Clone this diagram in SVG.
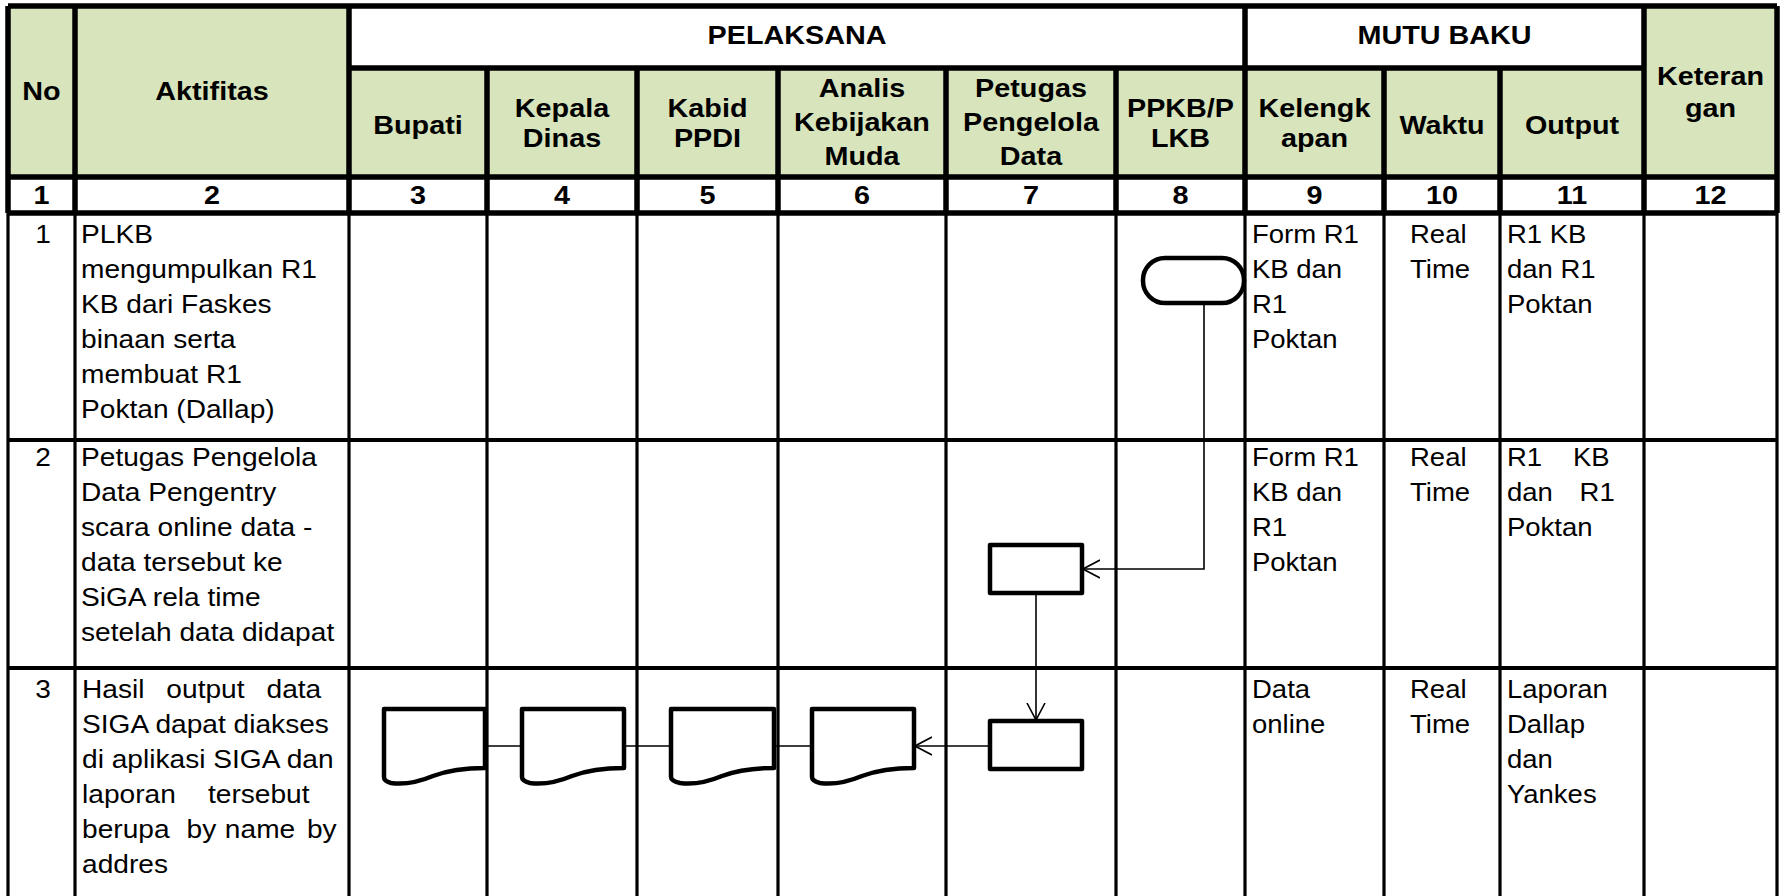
<svg xmlns="http://www.w3.org/2000/svg" width="1784" height="896" viewBox="0 0 1784 896">
<style>
.bg{fill:#ffffff}
.grn{fill:#D7E4BC}
.thk{stroke:#000;stroke-width:5.5;fill:none}
.thn{stroke:#000;stroke-width:3.2;fill:none}
.h{font-family:"Liberation Sans",Arial,sans-serif;font-weight:bold;font-size:25px;text-anchor:middle;fill:#000}
.t{font-family:"Liberation Sans",Arial,sans-serif;font-size:25px;fill:#000}
.c{text-anchor:middle}
.node{fill:#fff;stroke:#000;stroke-width:4.5;stroke-linejoin:round}
.conn{fill:none;stroke:#000;stroke-width:1.6}
</style>
<defs>
<marker id="arr" viewBox="0 0 18 20" refX="17" refY="10" markerWidth="18" markerHeight="20" markerUnits="userSpaceOnUse" orient="auto">
<path d="M0,1 L17,10 L0,19" fill="none" stroke="#000" stroke-width="1.6"/>
</marker>
</defs>
<rect class="bg" x="0" y="0" width="1784" height="896"/>
<g id="table">
<rect class="grn" x="8" y="6" width="341" height="171"/>
<rect class="grn" x="349" y="69" width="1295" height="108"/>
<rect class="grn" x="1644" y="6" width="133" height="171"/>
<path class="thk" d="M8,6 H1777 M349,68 H1644 M8,177 H1777 M8,213 H1777 M8,6 V213 M75,6 V213 M349,6 V213 M1245,6 V213 M1644,6 V213 M1777,6 V213 M487,68 V213 M637,68 V213 M778,68 V213 M946,68 V213 M1116,68 V213 M1384,68 V213 M1500,68 V213"/>
<path class="thn" d="M8,213 V896 M75,213 V896 M349,213 V896 M487,213 V896 M637,213 V896 M778,213 V896 M946,213 V896 M1116,213 V896 M1245,213 V896 M1384,213 V896 M1500,213 V896 M1644,213 V896 M1777,213 V896"/>
<path class="thk" style="stroke-width:4.2" d="M8,440 H1777 M8,668 H1777"/>
</g>
<g id="header-text">
<text class="h" transform="translate(797,44) scale(1.15,1)">PELAKSANA</text>
<text class="h" transform="translate(1444.5,44) scale(1.15,1)">MUTU BAKU</text>
<text class="h" transform="translate(41.5,100) scale(1.15,1)">No</text>
<text class="h" transform="translate(212,100) scale(1.15,1)">Aktifitas</text>
<text class="h" transform="translate(418,134) scale(1.15,1)">Bupati</text>
<text class="h" transform="translate(562,0) scale(1.15,1)"><tspan x="0" y="117">Kepala</tspan><tspan x="0" y="147">Dinas</tspan></text>
<text class="h" transform="translate(707.5,0) scale(1.15,1)"><tspan x="0" y="117">Kabid</tspan><tspan x="0" y="147">PPDI</tspan></text>
<text class="h" transform="translate(862,0) scale(1.15,1)"><tspan x="0" y="97">Analis</tspan><tspan x="0" y="131">Kebijakan</tspan><tspan x="0" y="165">Muda</tspan></text>
<text class="h" transform="translate(1031,0) scale(1.15,1)"><tspan x="0" y="97">Petugas</tspan><tspan x="0" y="131">Pengelola</tspan><tspan x="0" y="165">Data</tspan></text>
<text class="h" transform="translate(1180.5,0) scale(1.15,1)"><tspan x="0" y="117">PPKB/P</tspan><tspan x="0" y="147">LKB</tspan></text>
<text class="h" transform="translate(1314.5,0) scale(1.15,1)"><tspan x="0" y="117">Kelengk</tspan><tspan x="0" y="147">apan</tspan></text>
<text class="h" transform="translate(1442,134) scale(1.15,1)">Waktu</text>
<text class="h" transform="translate(1572,134) scale(1.15,1)">Output</text>
<text class="h" transform="translate(1710.5,0) scale(1.15,1)"><tspan x="0" y="85">Keteran</tspan><tspan x="0" y="117">gan</tspan></text>
<text class="h" transform="translate(41.5,204) scale(1.15,1)">1</text>
<text class="h" transform="translate(212,204) scale(1.15,1)">2</text>
<text class="h" transform="translate(418,204) scale(1.15,1)">3</text>
<text class="h" transform="translate(562,204) scale(1.15,1)">4</text>
<text class="h" transform="translate(707.5,204) scale(1.15,1)">5</text>
<text class="h" transform="translate(862,204) scale(1.15,1)">6</text>
<text class="h" transform="translate(1031,204) scale(1.15,1)">7</text>
<text class="h" transform="translate(1180.5,204) scale(1.15,1)">8</text>
<text class="h" transform="translate(1314.5,204) scale(1.15,1)">9</text>
<text class="h" transform="translate(1442,204) scale(1.15,1)">10</text>
<text class="h" transform="translate(1572,204) scale(1.15,1)">11</text>
<text class="h" transform="translate(1710.5,204) scale(1.15,1)">12</text>
</g>
<g id="row-1">
<text class="t c" transform="translate(43,243) scale(1.125,1)">1</text>
<text class="t" transform="translate(81,0) scale(1.125,1)"><tspan x="0" y="243">PLKB</tspan><tspan x="0" y="278">mengumpulkan R1</tspan><tspan x="0" y="313">KB dari Faskes</tspan><tspan x="0" y="348">binaan serta</tspan><tspan x="0" y="383">membuat R1</tspan><tspan x="0" y="418">Poktan (Dallap)</tspan></text>
<text class="t" transform="translate(1252,0) scale(1.1,1)"><tspan x="0" y="243">Form R1</tspan><tspan x="0" y="278">KB dan</tspan><tspan x="0" y="313">R1</tspan><tspan x="0" y="348">Poktan</tspan></text>
<text class="t" transform="translate(1410,0) scale(1.1,1)"><tspan x="0" y="243">Real</tspan><tspan x="0" y="278">Time</tspan></text>
<text class="t" transform="translate(1507,0) scale(1.1,1)"><tspan x="0" y="243">R1 KB</tspan><tspan x="0" y="278">dan R1</tspan><tspan x="0" y="313">Poktan</tspan></text>
</g>
<g id="row-2">
<text class="t c" transform="translate(43,466) scale(1.125,1)">2</text>
<text class="t" transform="translate(81,0) scale(1.125,1)"><tspan x="0" y="466">Petugas Pengelola</tspan><tspan x="0" y="501">Data Pengentry</tspan><tspan x="0" y="536">scara online data -</tspan><tspan x="0" y="571">data tersebut ke</tspan><tspan x="0" y="606">SiGA rela time</tspan><tspan x="0" y="641">setelah data didapat</tspan></text>
<text class="t" transform="translate(1252,0) scale(1.1,1)"><tspan x="0" y="466">Form R1</tspan><tspan x="0" y="501">KB dan</tspan><tspan x="0" y="536">R1</tspan><tspan x="0" y="571">Poktan</tspan></text>
<text class="t" transform="translate(1410,0) scale(1.1,1)"><tspan x="0" y="466">Real</tspan><tspan x="0" y="501">Time</tspan></text>
<text class="t" transform="translate(1507,0) scale(1.1,1)"><tspan x="0" y="466">R1</tspan><tspan x="60" y="466">KB</tspan><tspan x="0" y="501">dan</tspan><tspan x="66" y="501">R1</tspan><tspan x="0" y="536">Poktan</tspan></text>
</g>
<g id="row-3">
<text class="t c" transform="translate(43,698) scale(1.125,1)">3</text>
<text class="t" transform="translate(82,0) scale(1.125,1)"><tspan x="0" y="698">Hasil</tspan><tspan x="75" y="698">output</tspan><tspan x="164" y="698">data</tspan><tspan x="0" y="733">SIGA dapat diakses</tspan><tspan x="0" y="768">di aplikasi SIGA dan</tspan><tspan x="0" y="803">laporan</tspan><tspan x="112" y="803">tersebut</tspan><tspan x="0" y="838">berupa</tspan><tspan x="93" y="838">by</tspan><tspan x="127" y="838">name</tspan><tspan x="200" y="838">by</tspan><tspan x="0" y="873">addres</tspan></text>
<text class="t" transform="translate(1252,0) scale(1.1,1)"><tspan x="0" y="698">Data</tspan><tspan x="0" y="733">online</tspan></text>
<text class="t" transform="translate(1410,0) scale(1.1,1)"><tspan x="0" y="698">Real</tspan><tspan x="0" y="733">Time</tspan></text>
<text class="t" transform="translate(1507,0) scale(1.1,1)"><tspan x="0" y="698">Laporan</tspan><tspan x="0" y="733">Dallap</tspan><tspan x="0" y="768">dan</tspan><tspan x="0" y="803">Yankes</tspan></text>
</g>
<g id="connectors">
<path class="conn" d="M1204,303 V569 H1083" marker-end="url(#arr)"/>
<path class="conn" d="M1036,593 V720" marker-end="url(#arr)"/>
<path class="conn" d="M990,746 H915" marker-end="url(#arr)"/>
<path class="conn" d="M812,746 H775 M671,746 H626 M522,746 H485"/>
</g>
<g id="node-start">
<rect class="node" x="1143" y="258" width="101" height="45" rx="22" ry="22"/>
</g>
<g id="node-entry">
<rect class="node" x="990" y="545" width="92" height="48"/>
</g>
<g id="node-siga">
<rect class="node" x="990" y="721" width="92" height="48"/>
</g>
<g id="node-doc-analis">
<path class="node" d="M812,709 H914 V768 C898,768 878,770 862,776 C850,781 835,785 820,783 C816,782 812,780 812,777 Z"/>
</g>
<g id="node-doc-kabid">
<path class="node" d="M671,709 H774 V768 C758,768 738,770 722,776 C710,781 695,785 680,783 C676,782 671,780 671,777 Z"/>
</g>
<g id="node-doc-kepala">
<path class="node" d="M522,709 H624 V768 C608,768 588,770 572,776 C560,781 545,785 530,783 C526,782 522,780 522,777 Z"/>
</g>
<g id="node-doc-bupati">
<path class="node" d="M384,709 H485 V768 C469,768 449,770 433,776 C421,781 406,785 391,783 C387,782 384,780 384,777 Z"/>
</g>
</svg>
